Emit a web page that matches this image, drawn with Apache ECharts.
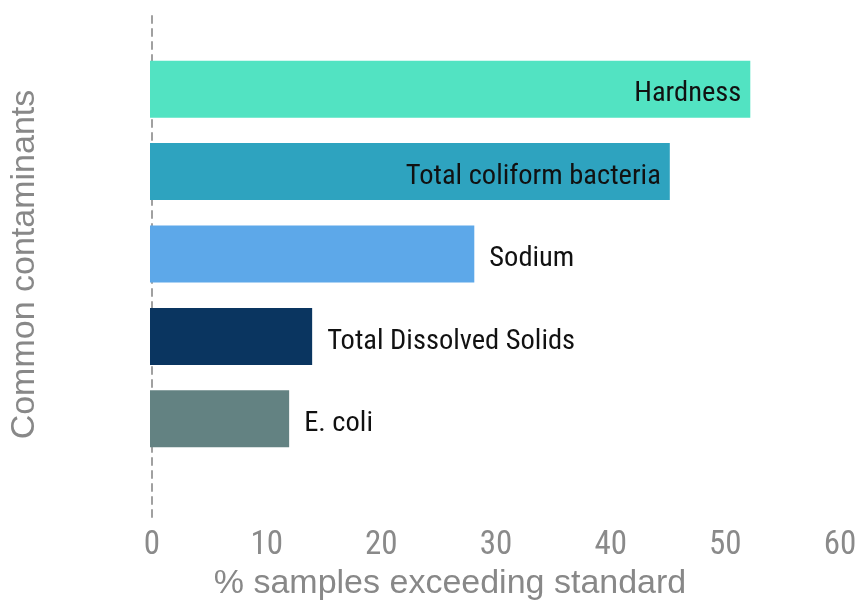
<!DOCTYPE html>
<html>
<head>
<meta charset="utf-8">
<script src="https://cdn.jsdelivr.net/npm/echarts@6/dist/echarts.min.js"></script>
<style>
  html, body { margin: 0; padding: 0; background: #fff; }
  #chart { width: 862px; height: 606px; }
</style>
</head>
<body>
<div id="chart"></div>
<script>
// contaminants, top to bottom
var contaminants = ['Hardness', 'Total coliform bacteria', 'Sodium', 'Total Dissolved Solids', 'E. coli'];
var exceedPct = [52.2, 45.2, 28.2, 14.1, 12.1];
var barColors = ['#52e3c2', '#2ea3bf', '#5da8e9', '#0a3560', '#638282'];
var labelInside = [true, true, false, false, false];
var xTicks = [0, 10, 20, 30, 40, 50, 60];

var narrowFont = "'Roboto Condensed', 'Liberation Sans Narrow', 'DejaVu Sans Condensed', sans-serif";

var chart = echarts.init(document.getElementById('chart'));

var barData = exceedPct.map(function (v, i) {
  return {
    value: v,
    itemStyle: { color: barColors[i] },
    label: labelInside[i]
      ? { position: 'insideRight', distance: 9 }
      : { position: 'right', distance: 15 }
  };
});

var option = {
  animation: false,
  grid: [
    // outer frame: tick labels, axis names, dashed zero line
    { left: 150, right: 22, top: 12, bottom: 81 },
    // bars
    { left: 150, right: 22, top: 48, bottom: 146 }
  ],
  xAxis: [{
    gridIndex: 0,
    type: 'value',
    min: xTicks[0],
    max: xTicks[xTicks.length - 1],
    interval: 10,
    name: '% samples exceeding standard',
    nameLocation: 'middle',
    nameGap: 36,
    nameTextStyle: {
      fontFamily: 'Liberation Sans',
      fontSize: 34,
      color: '#888888',
      padding: [0, 92, 0, 0]
    },
    axisLine: { show: false },
    axisTick: { show: false },
    splitLine: { show: false },
    axisLabel: {
      margin: 12,
      fontFamily: narrowFont,
      fontSize: 33,
      color: '#8a8a8a'
    }
  }, {
    gridIndex: 1,
    type: 'value',
    min: xTicks[0],
    max: xTicks[xTicks.length - 1],
    show: false
  }],
  yAxis: [{
    gridIndex: 0,
    type: 'value',
    min: 0,
    max: 1,
    name: 'Common contaminants',
    nameLocation: 'middle',
    nameGap: 110,
    nameTextStyle: {
      fontFamily: 'Liberation Sans',
      fontSize: 34,
      color: '#888888'
    },
    axisLine: {
      show: true,
      lineStyle: { color: '#a0a0a0', width: 2, type: [7, 6] }
    },
    axisTick: { show: false },
    axisLabel: { show: false },
    splitLine: { show: false }
  }, {
    gridIndex: 1,
    type: 'category',
    inverse: true,
    data: contaminants,
    show: false
  }],
  series: [{
    type: 'bar',
    xAxisIndex: 1,
    yAxisIndex: 1,
    barWidth: 57,
    data: barData,
    label: {
      show: true,
      formatter: '{b}',
      fontFamily: narrowFont,
      fontSize: 28.5,
      color: '#111111',
      offset: [0, 5]
    }
  }]
};

chart.setOption(option);
</script>
</body>
</html>
